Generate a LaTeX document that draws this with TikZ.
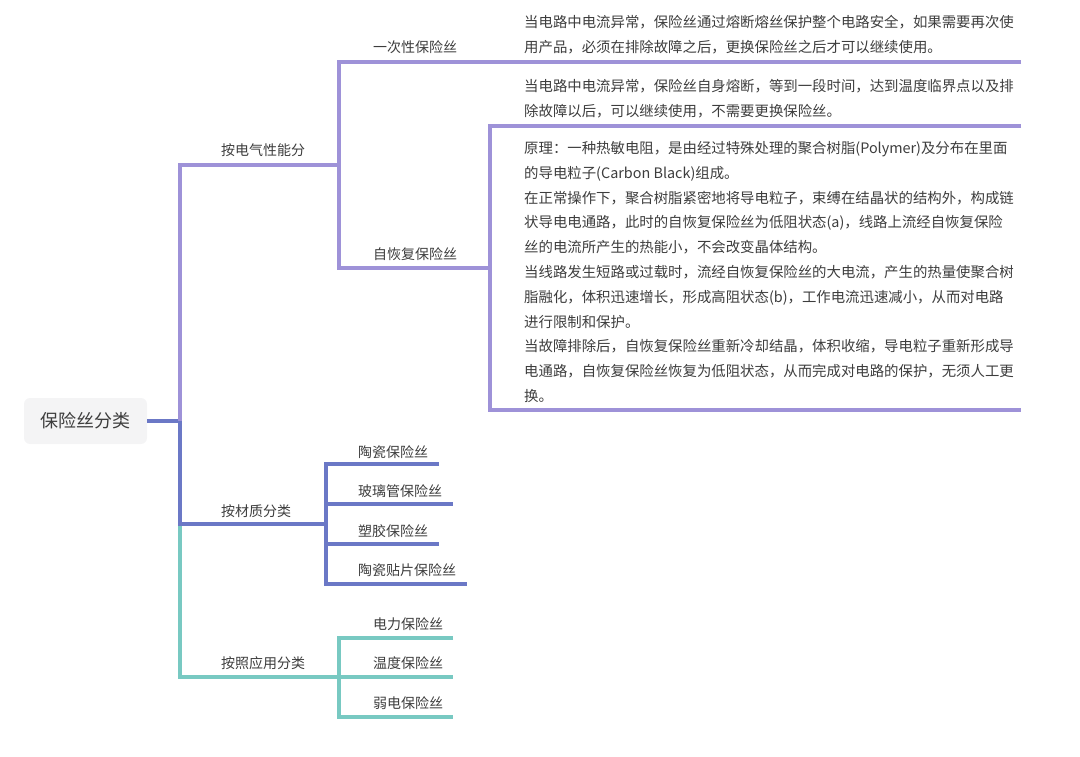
\documentclass[tikz,border=0pt]{standalone}
\usepackage{fontspec}
\setmainfont{Noto Sans CJK SC}
\definecolor{cpur}{HTML}{9E92D8}
\definecolor{cblu}{HTML}{6B78C6}
\definecolor{ctea}{HTML}{78C9C2}
\definecolor{croot}{HTML}{F4F4F5}
\definecolor{ctext}{HTML}{3D3D3D}
\begin{document}
\begin{tikzpicture}[x=1pt,y=-1pt,
  conn/.style={line width=3.1pt, line join=miter},
  pur/.style={conn, draw=cpur},
  blu/.style={conn, draw=cblu},
  tea/.style={conn, draw=ctea},
  lbl/.style={anchor=base west, inner sep=0pt, font=\fontsize{14}{16}\selectfont, text=ctext},
  desc/.style={anchor=base west, inner sep=0pt, font=\fontsize{14.4}{18}\selectfont, text=ctext},
  rootbox/.style={fill=croot, rounded corners=6pt, minimum width=123pt, minimum height=46pt,
    inner sep=0pt, font=\fontsize{18}{20}\selectfont, text=ctext}]
\useasboundingbox (0,0) rectangle (1080,757);

% root
\node[rootbox] (root) at (85.5,421) {保险丝分类};

% coordinates of the tree
\coordinate (T) at (180,421);
\coordinate (A) at (180,165);
\coordinate (E) at (339,165);
\coordinate (B) at (180,524);
\coordinate (M) at (326,524);
\coordinate (C) at (180,677);
\coordinate (P) at (339,677);
\coordinate (E1) at (339,62);
\coordinate (E2) at (339,268);
\coordinate (D1) at (1021,62);
\coordinate (F) at (490,268);
\coordinate (F1) at (490,126);
\coordinate (F2) at (490,410);
\coordinate (D2) at (1021,126);
\coordinate (D3) at (1021,410);
\coordinate (M1) at (326,464);
\coordinate (M2) at (326,504);
\coordinate (M3) at (326,544);
\coordinate (M4) at (326,584);
\coordinate (M1e) at (439,464);
\coordinate (M2e) at (453,504);
\coordinate (M3e) at (439,544);
\coordinate (M4e) at (467,584);
\coordinate (P1) at (339,638);
\coordinate (P3) at (339,717);
\coordinate (P1e) at (453,638);
\coordinate (P2e) at (453,677);
\coordinate (P3e) at (453,717);

% trunk
\draw[tea] (B) -- (C) -- (P2e);
\draw[blu] (root.east) -- (T) -- (B) -- (M);
\draw[pur] (T) -- (A) -- (E);

% electrical branch
\draw[pur] (D1) -- (E1) -- (E2) -- (F);
\draw[pur] (D2) -- (F1) -- (F2) -- (D3);

% material branch
\draw[blu] (M1e) -- (M1) -- (M4) -- (M4e);
\draw[blu] (M2) -- (M2e);
\draw[blu] (M3) -- (M3e);

% application branch
\draw[tea] (P1e) -- (P1) -- (P3) -- (P3e);

% labels
\node[lbl] (l1) at (221,156) {按电气性能分};
\node[lbl] (l11) at (373,53) {一次性保险丝};
\node[lbl] (l12) at (373,259) {自恢复保险丝};
\node[lbl] (l2) at (221,516) {按材质分类};
\node[lbl] (l21) at (358,457) {陶瓷保险丝};
\node[lbl] (l22) at (358,496) {玻璃管保险丝};
\node[lbl] (l23) at (358,536) {塑胶保险丝};
\node[lbl] (l24) at (358,575) {陶瓷贴片保险丝};
\node[lbl] (l3) at (221,668) {按照应用分类};
\node[lbl] (l31) at (373,629) {电力保险丝};
\node[lbl] (l32) at (373,668) {温度保险丝};
\node[lbl] (l33) at (373,708) {弱电保险丝};

% descriptions
\node[desc] (a1) at (524,27.5) {当电路中电流异常，保险丝通过熔断熔丝保护整个电路安全，如果需要再次使};
\node[desc] (a2) at (524,52.5) {用产品，必须在排除故障之后，更换保险丝之后才可以继续使用。};
\node[desc] (b1) at (524,91.5) {当电路中电流异常，保险丝自身熔断，等到一段时间，达到温度临界点以及排};
\node[desc] (b2) at (524,116.5) {除故障以后，可以继续使用，不需要更换保险丝。};
\node[desc] (c1) at (524,153.5) {原理：一种热敏电阻，是由经过特殊处理的聚合树脂(Polymer)及分布在里面};
\node[desc] (c2) at (524,178.3) {的导电粒子(Carbon Black)组成。};
\node[desc] (c3) at (524,203.1) {在正常操作下，聚合树脂紧密地将导电粒子，束缚在结晶状的结构外，构成链};
\node[desc] (c4) at (524,227.9) {状导电电通路，此时的自恢复保险丝为低阻状态(a)，线路上流经自恢复保险};
\node[desc] (c5) at (524,252.7) {丝的电流所产生的热能小，不会改变晶体结构。};
\node[desc] (c6) at (524,277.5) {当线路发生短路或过载时，流经自恢复保险丝的大电流，产生的热量使聚合树};
\node[desc] (c7) at (524,302.3) {脂融化，体积迅速增长，形成高阻状态(b)，工作电流迅速减小，从而对电路};
\node[desc] (c8) at (524,327.1) {进行限制和保护。};
\node[desc] (c9) at (524,351.9) {当故障排除后，自恢复保险丝重新冷却结晶，体积收缩，导电粒子重新形成导};
\node[desc] (c10) at (524,376.7) {电通路，自恢复保险丝恢复为低阻状态，从而完成对电路的保护，无须人工更};
\node[desc] (c11) at (524,401.5) {换。};
\end{tikzpicture}
\end{document}
